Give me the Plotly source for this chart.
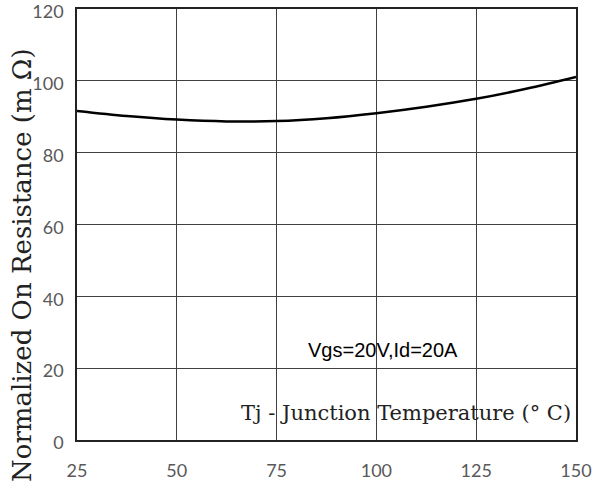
import plotly.graph_objects as go

# Junction temperature (°C) and normalized on-resistance (mΩ)
tj = [25, 37.5, 50, 62.5, 75, 87.5, 100, 112.5, 125, 137.5, 150]
r_on = [91.6, 90.2, 89.2, 88.7, 88.8, 89.6, 91.0, 92.8, 95.0, 97.8, 101.1]

x_ticks = [25, 50, 75, 100, 125, 150]
y_ticks = [0, 20, 40, 60, 80, 100, 120]

condition_label = "Vgs=20V,Id=20A"
x_title = "Tj - Junction Temperature (° C)"
y_title = "Normalized On Resistance (m Ω)"

TITLE_FONT = "DejaVu Serif, serif"

fig = go.Figure()
fig.add_trace(go.Scatter(
    x=tj, y=r_on, mode="lines",
    line=dict(color="black", width=2.5, shape="spline", smoothing=1.0),
    hoverinfo="skip", showlegend=False,
))

tick_font = dict(family="Lato, sans-serif", size=18, color="#595959")

fig.update_xaxes(
    range=[25, 150], tickvals=x_ticks, ticktext=[str(v) for v in x_ticks],
    showgrid=True, gridcolor="#404040", gridwidth=1.3,
    showline=True, linecolor="#222222", linewidth=1.6, mirror=True,
    zeroline=False, ticks="", tickfont=tick_font, ticklabelstandoff=14,
    ticklabeloverflow="allow", automargin=False,
)
fig.update_yaxes(
    range=[0, 120], tickvals=y_ticks, ticktext=[str(v) for v in y_ticks],
    showgrid=True, gridcolor="#404040", gridwidth=1.3,
    showline=True, linecolor="#222222", linewidth=1.6, mirror=True,
    zeroline=False, ticks="", tickfont=tick_font, ticklabelstandoff=8,
    ticklabelshift=3, ticklabeloverflow="allow", automargin=False,
)

# Axis titles are drawn as annotations so they can sit where the datasheet puts them
fig.add_annotation(
    x=(22 - 77) / 499, y=(440 - 484) / 431, xref="paper", yref="paper",
    text=y_title, showarrow=False, textangle=-90,
    xanchor="center", yanchor="bottom",
    font=dict(family=TITLE_FONT, size=26, color="#222222"),
)
fig.add_annotation(
    x=149.2, y=7.5, xref="x", yref="y", text=x_title, showarrow=False,
    xanchor="right",
    font=dict(family=TITLE_FONT, size=21, color="#222222"),
)
fig.add_annotation(
    x=101.7, y=25, xref="x", yref="y", text=condition_label, showarrow=False,
    font=dict(family="Liberation Sans, Arial, sans-serif", size=20, color="black"),
)

fig.update_layout(
    width=604, height=486,
    margin=dict(l=77, r=28, t=9, b=46),
    paper_bgcolor="white", plot_bgcolor="white",
)

fig.write_html("out.html")
